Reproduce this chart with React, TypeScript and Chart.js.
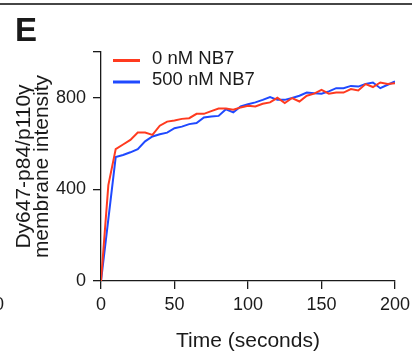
import React, { useEffect, useRef } from 'react';
import { Chart, registerables } from 'chart.js';

Chart.register(...registerables);

// ---- data ----
const times = [
  0, 5, 10, 15, 20, 25, 30, 35, 40, 45,
  50, 55, 60, 65, 70, 75, 80, 85, 90, 95,
  100, 105, 110, 115, 120, 125, 130, 135, 140, 145,
  150, 155, 160, 165, 170, 175, 180, 185, 190, 195, 200,
];
const nb7_0nM = [
  0, 419, 576, 596, 616, 648, 648, 638, 678, 696,
  701, 708, 711, 730, 730, 742, 753, 753, 748, 758,
  765, 762, 774, 780, 800, 777, 799, 784, 809, 818,
  835, 818, 823, 823, 838, 832, 860, 847, 867, 860, 864,
];
const nb7_500nM = [
  0, 270, 541, 550, 562, 576, 610, 631, 641, 648,
  667, 674, 685, 690, 714, 718, 721, 750, 736, 762,
  772, 780, 791, 803, 791, 791, 799, 809, 823, 820,
  818, 828, 842, 842, 852, 849, 860, 867, 842, 857, 871,
];
const seriesLabels = ['0 nM NB7', '500 nM NB7'];
const seriesColors = ['#ff3a1f', '#1f49ff'];
const xTickValues = [0, 50, 100, 150, 200];
const yTickValues = [0, 400, 800, 1000];
const yTickLabels = ['0', '400', '800', ''];
const xTitle = 'Time (seconds)';
const yTitle = ['Dy647-p84/p110γ', 'membrane intensity'];
const panelLetter = 'E';

const FONT = '"Liberation Sans", Arial, Helvetica, sans-serif';
const INK = '#1a1a1a';

const decorPlugin = {
  id: 'decor',
  afterDraw(chart: any) {
    const ctx = chart.ctx as CanvasRenderingContext2D;
    ctx.save();
    // top rule
    ctx.fillStyle = INK;
    ctx.fillRect(0, 3.2, chart.width, 1.6);
    // panel letter
    ctx.font = `bold 33px ${FONT}`;
    ctx.textAlign = 'left';
    ctx.textBaseline = 'alphabetic';
    ctx.fillText(panelLetter, 15, 41);
    // cut-off tick label of neighbouring panel
    ctx.font = `18px ${FONT}`;
    ctx.textAlign = 'right';
    ctx.textBaseline = 'middle';
    ctx.fillText('200', 4, 305);
    // legend
    const lineY = [60.5, 82];
    const textY = [59, 80];
    chart.data.datasets.forEach((ds: any, i: number) => {
      ctx.strokeStyle = ds.borderColor;
      ctx.lineWidth = 3;
      ctx.lineCap = 'butt';
      ctx.beginPath();
      ctx.moveTo(113, lineY[i]);
      ctx.lineTo(140, lineY[i]);
      ctx.stroke();
      ctx.fillStyle = INK;
      ctx.font = `18.5px ${FONT}`;
      ctx.textAlign = 'left';
      ctx.textBaseline = 'middle';
      ctx.fillText(ds.label, 152, textY[i]);
    });
    ctx.restore();
  },
};

export default function App() {
  const ref = useRef<HTMLCanvasElement | null>(null);

  useEffect(() => {
    if (!ref.current) return;
    const series = [nb7_0nM, nb7_500nM];
    const chart = new Chart(ref.current, {
      type: 'line',
      data: {
        datasets: series.map((vals, i) => ({
          label: seriesLabels[i],
          data: times.map((t, j) => ({ x: t, y: vals[j] })),
          borderColor: seriesColors[i],
          backgroundColor: seriesColors[i],
          borderWidth: 2,
          pointRadius: 0,
          tension: 0,
          fill: false,
        })),
      },
      options: {
        responsive: false,
        animation: false,
        layout: { padding: { left: 0, right: 17, top: 52, bottom: 0 } },
        plugins: {
          legend: { display: false },
          tooltip: { enabled: false },
        },
        scales: {
          x: {
            type: 'linear',
            min: 0,
            max: 200,
            afterFit: (s: any) => { s.height = 70; s.paddingLeft = 0; s.paddingRight = 0; },
            afterBuildTicks: (s: any) => { s.ticks = xTickValues.map((v) => ({ value: v })); },
            ticks: {
              color: INK,
              font: { family: FONT, size: 18 },
              padding: 5,
              maxRotation: 0,
              autoSkip: false,
            },
            grid: { display: true, drawOnChartArea: false, drawTicks: true, tickLength: 8, color: INK, lineWidth: 1.3 },
            border: { display: true, color: INK, width: 1.3 },
            title: {
              display: true,
              text: xTitle,
              color: INK,
              font: { family: FONT, size: 21, lineHeight: 0.95 },
              padding: { top: 0, bottom: 0 },
            },
          },
          y: {
            type: 'linear',
            min: 0,
            max: 1000,
            afterFit: (s: any) => { s.width = 101; s.paddingTop = 0; s.paddingBottom = 0; },
            afterBuildTicks: (s: any) => { s.ticks = yTickValues.map((v) => ({ value: v })); },
            ticks: {
              color: INK,
              font: { family: FONT, size: 18 },
              padding: 7,
              autoSkip: false,
              callback: (v: any) => {
                const k = yTickValues.indexOf(Number(v));
                return k >= 0 ? yTickLabels[k] : '';
              },
            },
            grid: { display: true, drawOnChartArea: false, drawTicks: true, tickLength: 8, color: INK, lineWidth: 1.3 },
            border: { display: true, color: INK, width: 1.3 },
            title: {
              display: true,
              text: yTitle,
              color: INK,
              font: { family: FONT, size: 21, lineHeight: 0.87 },
              padding: { top: 15, bottom: 0 },
            },
          },
        },
      },
      plugins: [decorPlugin],
    } as any);
    return () => chart.destroy();
  }, []);

  return (
    <div style={{ position: 'absolute', left: 0, top: 0, width: 412, height: 351, background: '#fff' }}>
      <canvas ref={ref} width={412} height={351} style={{ display: 'block' }} />
    </div>
  );
}
